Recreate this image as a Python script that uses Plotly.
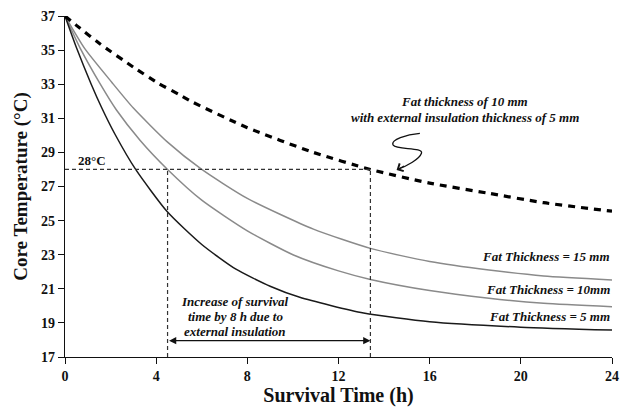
import plotly.graph_objects as go

# ---- data ----
t_5mm = [0, 0.5, 1.15, 1.6, 2.2, 3.1, 4.5, 6.0, 7.5, 9.0, 10.3, 13.1, 16.0, 20.0, 24.0]
T_5mm = [37, 35.15, 33.0, 31.65, 30.05, 28.0, 25.5, 23.6, 22.15, 21.15, 20.5, 19.58, 19.07, 18.75, 18.58]

t_10mm = [0, 0.67, 1.55, 2.25, 3.3, 4.5, 6.0, 8.0, 10.0, 12.0, 13.4, 16.0, 18.6, 21.0, 24.0]
T_10mm = [37, 35.1, 33.0, 31.5, 29.7, 28.0, 26.2, 24.4, 23.0, 22.05, 21.55, 20.9, 20.45, 20.15, 19.95]

t_15mm = [0, 0.86, 2.06, 3.0, 4.5, 6.0, 8.0, 10.9, 13.4, 16.0, 18.6, 21.0, 24.0]
T_15mm = [37, 35.1, 33.1, 31.6, 29.6, 28.0, 26.3, 24.5, 23.37, 22.6, 22.1, 21.75, 21.52]

t_ins = [0, 0.5, 1.5, 3.0, 4.1, 5.0, 5.6, 8.0, 10.9, 13.4, 16.0, 18.6, 21.0, 24.0]
T_ins = [37, 36.45, 35.4, 34.0, 33.05, 32.4, 31.95, 30.45, 29.0, 28.0, 27.2, 26.6, 26.05, 25.55]

threshold_temp = 28
t_cross_10mm = 4.5
t_cross_ins = 13.4

x_ticks = [0, 4, 8, 12, 16, 20, 24]
y_ticks = [17, 19, 21, 23, 25, 27, 29, 31, 33, 35, 37]

serif = "Liberation Serif, Times New Roman, serif"

fig = go.Figure()

fig.add_trace(go.Scatter(x=t_15mm, y=T_15mm, mode="lines",
                         line=dict(color="#8a8a8a", width=1.5, shape="spline", smoothing=0.6)))
fig.add_trace(go.Scatter(x=t_10mm, y=T_10mm, mode="lines",
                         line=dict(color="#8a8a8a", width=1.5, shape="spline", smoothing=0.6)))
fig.add_trace(go.Scatter(x=t_5mm, y=T_5mm, mode="lines",
                         line=dict(color="#1a1a1a", width=1.5, shape="spline", smoothing=0.6)))
fig.add_trace(go.Scatter(x=t_ins, y=T_ins, mode="lines",
                         line=dict(color="#000000", width=3.2, dash="7px,6px", shape="spline", smoothing=0.6)))

# reference dashed lines
dash_style = dict(color="#333333", width=1.2, dash="4px,3px")
fig.add_shape(type="line", x0=0, x1=t_cross_ins, y0=threshold_temp, y1=threshold_temp,
              xref="x", yref="y", line=dash_style)
fig.add_shape(type="line", x0=t_cross_10mm, x1=t_cross_10mm, y0=17, y1=threshold_temp,
              xref="x", yref="y", line=dash_style)
fig.add_shape(type="line", x0=t_cross_ins, x1=t_cross_ins, y0=17, y1=threshold_temp,
              xref="x", yref="y", line=dash_style)

# squiggly pointer
fig.add_shape(type="path", xref="x", yref="y",
              path="M 15.57,30.12 C 15.0,30.05 14.25,29.75 14.40,29.43 "
                   "C 14.55,29.15 15.75,29.3 15.64,28.95 C 15.55,28.6 15.0,28.2 14.62,28.02",
              line=dict(color="#111111", width=1.3))
fig.add_annotation(x=14.55, y=27.97, ax=14.95, ay=28.25, xref="x", yref="y",
                   axref="x", ayref="y", text="", showarrow=True,
                   arrowhead=4, arrowsize=1.3, arrowwidth=1.3, arrowcolor="#111111")

# double arrow
fig.add_annotation(x=t_cross_ins, y=17.96, ax=t_cross_10mm, ay=17.96, xref="x", yref="y",
                   axref="x", ayref="y", text="", showarrow=True,
                   arrowhead=2, startarrowhead=2, arrowside="end+start",
                   arrowsize=1.2, startarrowsize=1.2, arrowwidth=1.2, arrowcolor="#111111")

bi = dict(family=serif, size=13, color="#111111", weight="bold", style="italic")

def txt(x, y, s, xanchor="center", font=bi):
    fig.add_annotation(x=x, y=y, xref="x", yref="y", text=s, showarrow=False,
                       xanchor=xanchor, yanchor="middle", font=font)

txt(1.2, 28.55, "28°C", font=dict(family=serif, size=13, color="#111111", weight="bold"))
txt(17.54, 31.96, "Fat thickness of 10 mm")
txt(17.54, 31.02, "with external insulation thickness of 5 mm")
txt(24, 22.87, "Fat Thickness = 15 mm", xanchor="right")
txt(24, 20.93, "Fat Thickness = 10mm", xanchor="right")
txt(24, 19.40, "Fat Thickness = 5 mm", xanchor="right")
txt(7.46, 20.23, "Increase of survival")
txt(7.46, 19.35, "time by 8 h due to")
txt(7.46, 18.47, "external insulation")

axis_font = dict(family=serif, size=14, color="#111111", weight="bold")

fig.update_xaxes(range=[0, 24], tickvals=x_ticks, ticktext=[str(v) for v in x_ticks],
                 automargin=False,
                 showgrid=False, zeroline=False, showline=True, linecolor="#111111",
                 linewidth=1.3, ticks="outside", ticklen=6, tickwidth=1.2, tickcolor="#111111",
                 tickfont=axis_font,
                 title=dict(text="Survival Time (h)", standoff=4,
                            font=dict(family=serif, size=20, color="#111111", weight="bold")))
fig.update_yaxes(range=[17, 37], tickvals=y_ticks, ticktext=[str(v) for v in y_ticks],
                 automargin=False,
                 showgrid=False, zeroline=False, showline=True, linecolor="#111111",
                 linewidth=1.3, ticks="outside", ticklen=6, tickwidth=1.2, tickcolor="#111111",
                 tickfont=axis_font,
                 title=dict(text="Core Temperature (°C)", standoff=8,
                            font=dict(family=serif, size=19, color="#111111", weight="bold")))

fig.update_layout(width=623, height=407, margin=dict(l=65, r=11, t=16, b=50),
                  plot_bgcolor="white", paper_bgcolor="white", showlegend=False)

# remove the page's default body margin so the figure sits at the window's corner
fig.write_html("out.html", config={"displayModeBar": False},
               post_script="document.body.style.margin='0';document.body.style.overflow='hidden';")
